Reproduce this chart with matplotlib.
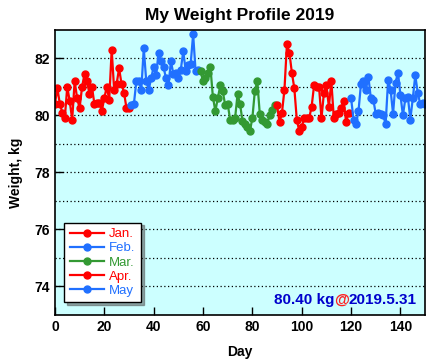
import matplotlib
matplotlib.use("Agg")
import matplotlib.pyplot as plt
import numpy as np
from matplotlib.offsetbox import TextArea, HPacker, AnchoredOffsetbox

plt.rcParams['font.family'] = ['Liberation Sans', 'DejaVu Sans']
plt.rcParams['font.weight'] = 'bold'

# daily weight (kg), day 0 = Jan 1
jan = [80.4, 80.95, 80.4, 80.1, 79.9, 81.0, 80.5, 79.85, 81.2, 80.6, 80.25,
       81.0, 81.45, 81.2, 80.75, 81.0, 80.4, 80.45, 80.45, 80.15, 80.6, 81.0,
       80.55, 82.3, 80.9, 81.1, 81.65, 81.1, 80.8, 80.25, 80.25]
feb = [80.35, 80.4, 81.2, 81.2, 80.9, 82.35, 81.2, 80.9, 81.3, 81.7, 81.4,
       82.2, 81.9, 81.7, 81.3, 81.05, 81.9, 81.45, 81.5, 81.3, 81.6, 82.25,
       81.55, 81.75, 81.8, 82.85, 81.55, 81.6]
mar = [81.55, 81.2, 81.3, 81.5, 81.7, 80.65, 80.15, 80.6, 81.05, 80.85, 80.35,
       80.4, 79.85, 79.85, 79.9, 80.75, 80.4, 79.8, 79.7, 79.6, 79.45, 79.9,
       80.85, 81.2, 80.05, 79.85, 79.75, 79.7, 80.0, 80.2, 80.35]
apr = [80.35, 79.75, 80.1, 80.9, 82.5, 82.2, 81.5, 80.95, 79.85, 79.45, 79.6,
       79.9, 79.9, 79.9, 80.3, 81.05, 81.0, 81.0, 79.9, 80.8, 81.05, 80.3,
       81.2, 79.9, 80.05, 80.1, 80.25, 80.5, 79.75, 80.1]
may = [80.6, 79.85, 79.7, 80.15, 81.1, 81.2, 80.9, 81.35, 80.6, 80.55, 80.05,
       80.1, 80.05, 80.0, 79.7, 81.25, 80.9, 80.05, 81.15, 81.5, 80.7, 80.0,
       80.6, 80.65, 79.85, 80.6, 81.4, 80.8, 80.4, 80.45, 80.4]

months = ['Jan.', 'Feb.', 'Mar.', 'Apr.', 'May']
series = [jan, feb, mar, apr, may]
colors = ['#ff0000', '#2070ff', '#339933', '#ff0000', '#2070ff']

fig = plt.figure(figsize=(4.29, 3.64), dpi=100)
ax = fig.add_axes([0.128, 0.135, 0.863, 0.783])
ax.set_facecolor('#ccffff')

start = 0
for name, vals, c in zip(months, series, colors):
    days = np.arange(start, start + len(vals))
    ax.plot(days, vals, color=c, lw=1.6, marker='o', ms=5, label=name)
    start += len(vals)

ax.set_xlim(0, 150)
ax.set_ylim(73, 83)
ax.set_xticks(range(0, 141, 20))
ax.set_yticks(range(74, 83, 2))
ax.set_yticks(range(74, 83), minor=True)
ax.grid(axis='y', which='both', color='black', ls=(0, (1, 2)), lw=0.9)
ax.tick_params(direction='in', length=6, labelsize=10, width=1)
ax.tick_params(which='minor', length=0)
for s in ax.spines.values():
    s.set_linewidth(1.2)

ax.set_title('My Weight Profile 2019', fontsize=12.5, fontweight='bold', pad=7)
ax.set_xlabel('Day', fontsize=10, fontweight='bold', labelpad=8)
ax.set_ylabel('Weight, kg', fontsize=10, fontweight='bold', labelpad=8)

leg = ax.legend(loc='lower left', bbox_to_anchor=(0.015, 0.03), fontsize=9.5,
                handlelength=2.6, shadow=True, fancybox=False, framealpha=1,
                edgecolor='black', borderaxespad=0.3, labelspacing=0.15,
                handletextpad=0.4)
leg.get_frame().set_linewidth(1)
for t, c in zip(leg.get_texts(), colors):
    t.set_color(c)
    t.set_fontweight('normal')

parts = [TextArea('80.40 kg', textprops=dict(color='#0000cc', fontsize=11, fontweight='bold')),
         TextArea('@', textprops=dict(color='#ff2020', fontsize=11, fontweight='bold')),
         TextArea('2019.5.31', textprops=dict(color='#0000cc', fontsize=11, fontweight='bold'))]
box = HPacker(children=parts, pad=0, sep=0)
anchored = AnchoredOffsetbox(loc='lower right', child=box, pad=0.1, borderpad=0.5, frameon=False)
ax.add_artist(anchored)

fig.savefig('out.png', dpi=100)
